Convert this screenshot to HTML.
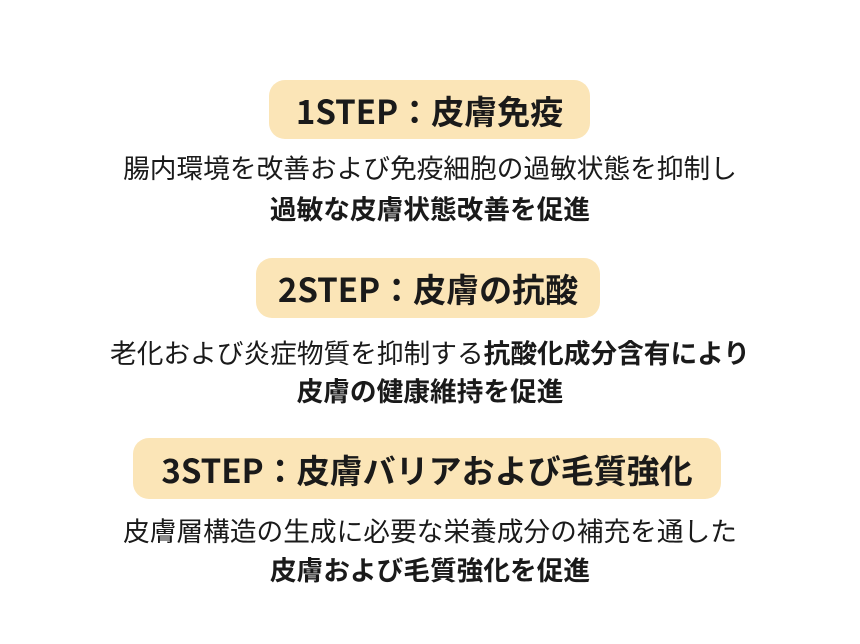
<!DOCTYPE html>
<html><head><meta charset="utf-8"><style>
body{margin:0;width:860px;height:644px;background:#fff;position:relative;overflow:hidden;font-family:"Noto Sans CJK JP","Liberation Sans",sans-serif;color:#1a1a1a}
.p{position:absolute;background:#fbe5b7;border-radius:16px;font-weight:bold;font-size:33px;display:flex;align-items:center;justify-content:center;white-space:nowrap}
.t{position:absolute;left:0;width:860px;text-align:center;font-size:26.7px;line-height:30px;white-space:nowrap}
b{font-weight:bold}
</style></head><body>
<div class="p" style="left:269px;top:80px;width:321px;height:59px">1STEP：皮膚免疫</div>
<div class="t" style="top:152px">腸内環境を改善および免疫細胞の過敏状態を抑制し</div>
<div class="t" style="top:193px"><b>過敏な皮膚状態改善を促進</b></div>
<div class="p" style="left:256px;top:258px;width:344px;height:60px">2STEP：皮膚の抗酸</div>
<div class="t" style="top:337px">老化および炎症物質を抑制する<b>抗酸化成分含有により</b></div>
<div class="t" style="top:375px"><b>皮膚の健康維持を促進</b></div>
<div class="p" style="left:133px;top:438px;width:588px;height:61px">3STEP：皮膚バリアおよび毛質強化</div>
<div class="t" style="top:515px">皮膚層構造の生成に必要な栄養成分の補充を通した</div>
<div class="t" style="top:554px"><b>皮膚および毛質強化を促進</b></div>
</body></html>
